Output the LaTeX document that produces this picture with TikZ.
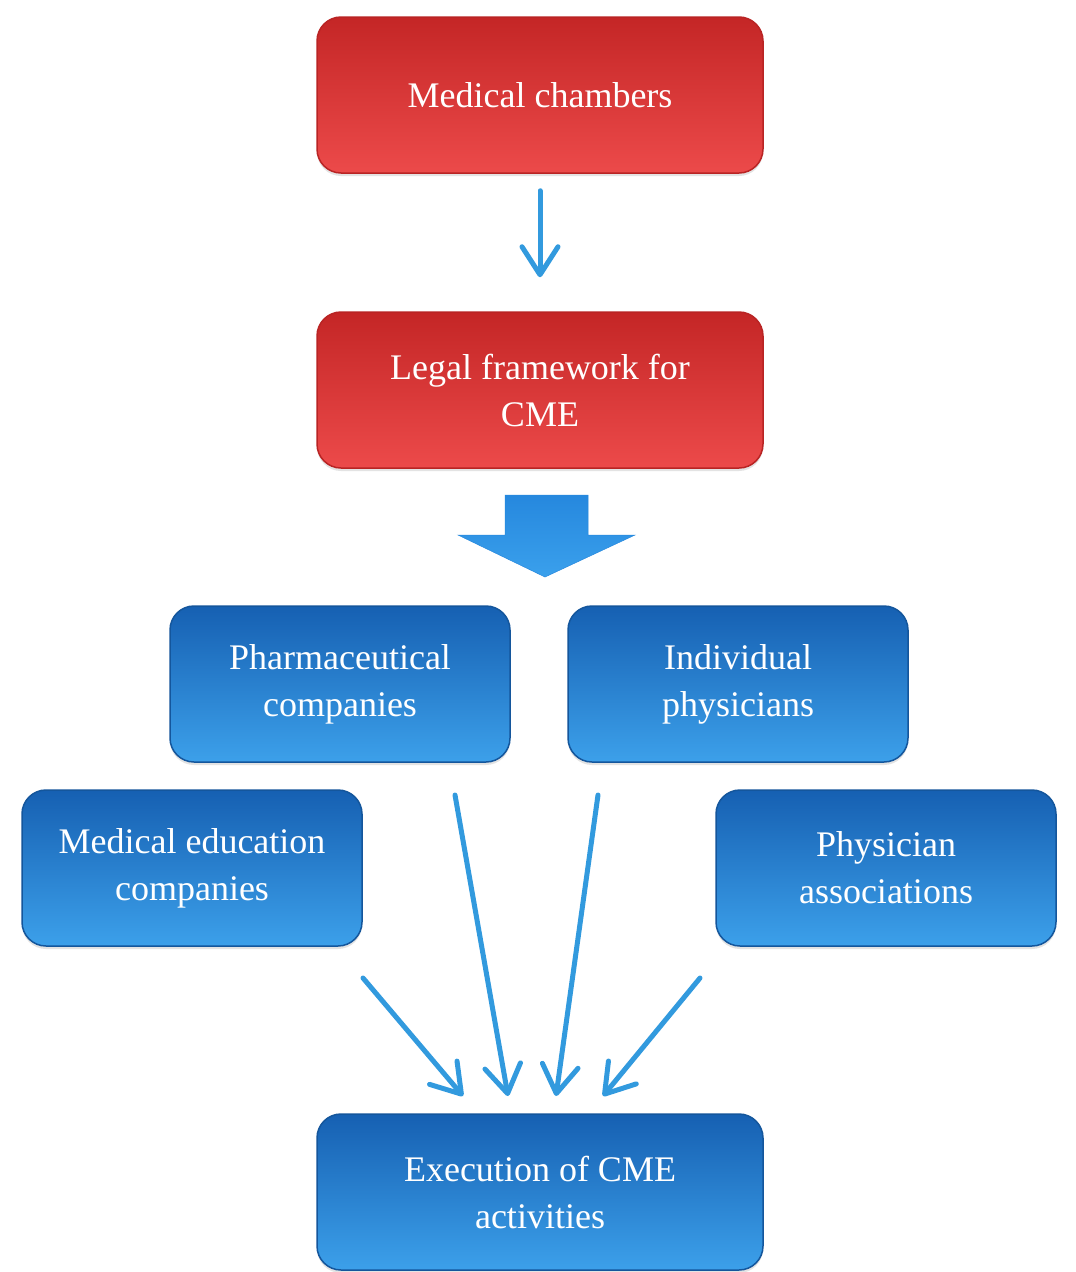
\documentclass[tikz,border=0pt]{standalone}
\usepackage{fontspec}
\setmainfont{Liberation Serif}
\usetikzlibrary{arrows.meta,shadows}
\definecolor{redtop}{RGB}{196,38,38}
\definecolor{redmid}{RGB}{232,54,54}
\definecolor{redbot}{RGB}{236,74,74}
\definecolor{redline}{RGB}{185,36,36}
\definecolor{bluetop}{RGB}{22,96,178}
\definecolor{bluemid}{RGB}{36,128,212}
\definecolor{bluebot}{RGB}{60,160,234}
\definecolor{blueline}{RGB}{20,86,156}
\definecolor{arrowblue}{RGB}{50,154,222}
\definecolor{bigtop}{RGB}{38,136,222}
\definecolor{bigbot}{RGB}{58,160,236}
\begin{document}
\begin{tikzpicture}[x=1pt,y=-1pt,
  box/.style={rounded corners=24pt, align=center, text=white,
    font=\fontsize{36}{47}\selectfont, line width=1.5pt,
    drop shadow={opacity=0.22, shadow xshift=0pt, shadow yshift=-3pt}},
  widebox/.style={box, minimum width=446pt, minimum height=156pt},
  smallbox/.style={box, minimum width=340pt, minimum height=156pt},
  redfill/.style={draw=redline, top color=redtop, middle color=redmid, bottom color=redbot},
  bluefill/.style={draw=blueline, top color=bluetop, middle color=bluemid, bottom color=bluebot},
  conn/.style={draw=arrowblue, line width=5pt, line cap=round,
    -{Straight Barb[length=28pt, width=36pt, round]}}
]
\useasboundingbox (0,0) rectangle (1076,1272);
\fill[white] (0,0) rectangle (1076,1272);

\node[widebox, redfill] (med) at (540,95) {Medical chambers};
\node[widebox, redfill] (legal) at (540,390) {Legal framework for\\CME};
\node[smallbox, bluefill] (pharma) at (340,684) {Pharmaceutical\\companies};
\node[smallbox, bluefill] (indiv) at (738,684) {Individual\\physicians};
\node[smallbox, bluefill] (meded) at (192,868) {Medical education\\companies};
\node[smallbox, bluefill] (phys) at (886,868) {Physician\\associations};
\node[widebox, bluefill] (exec) at (540,1192) {Execution of CME\\activities};

% big block arrow
\path[top color=bigtop, bottom color=bigbot, draw=bigtop, line width=0.5pt]
  (505,495) -- (588,495) -- (588,535) -- (635,535) -- (545,577) -- (458,535) -- (505,535) -- cycle;

% thin arrows
\draw[conn, shorten <=17pt, shorten >=34pt] (med.south) -- (legal.north);

\coordinate (s1) at (363,978);
\coordinate (e1) at (463,1096);
\coordinate (s2) at (455,795);
\coordinate (e2) at (508,1096);
\coordinate (s3) at (598,795);
\coordinate (e3) at (556,1096);
\coordinate (s4) at (700,978);
\coordinate (e4) at (603,1096);
\draw[conn] (s1) -- (e1);
\draw[conn] (s2) -- (e2);
\draw[conn] (s3) -- (e3);
\draw[conn] (s4) -- (e4);
\end{tikzpicture}
\end{document}
